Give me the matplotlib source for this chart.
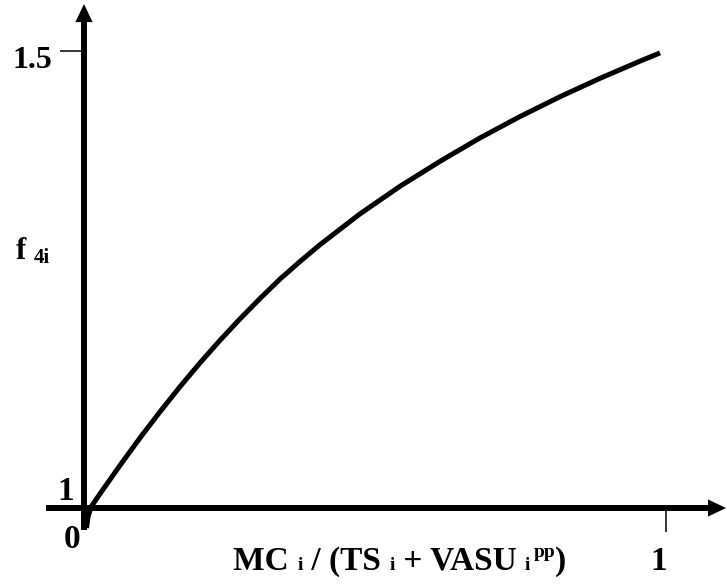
import matplotlib
matplotlib.use("Agg")
import matplotlib.pyplot as plt
from matplotlib.patches import FancyArrowPatch

plt.rcParams['font.family'] = ['Liberation Serif', 'DejaVu Serif']

# curve data: ratio MC_i/(TS_i+VASU_i^pp) vs f_4i
ratio = [0.0043, 0.0069, 0.0120, 0.0275, 0.0619, 0.0962, 0.1306, 0.1649,
         0.1993, 0.2337, 0.2680, 0.3024, 0.3368, 0.3711, 0.4055, 0.4742,
         0.5430, 0.6117, 0.6804, 0.7491, 0.8179, 0.8866, 0.9553, 0.9897]
f4i = [0.9781, 0.9902, 1.0011, 1.0156, 1.0467, 1.0767, 1.1053, 1.1327,
       1.1588, 1.1835, 1.2069, 1.2292, 1.2505, 1.2697, 1.2881, 1.3218,
       1.3520, 1.3793, 1.4049, 1.4283, 1.4500, 1.4701, 1.4889, 1.4979]

y_tick_vals = [1.5]
y_tick_labels = ['1.5']
x_tick_vals = [1]
x_tick_labels = ['1']

W, H = 727, 586
fig = plt.figure(figsize=(W / 100, H / 100), dpi=100)
ax = fig.add_axes([0, 0, 1, 1])
ax.set_xlim(-0.1443, 1.1048)
ax.set_ylim(0.9147, 1.5558)
ax.axis('off')

AX_LW = 4.3
# axis shafts
ax.plot([-0.0653, 1.085], [1.0, 1.0], color='black', lw=AX_LW, solid_capstyle='butt')
ax.plot([0.0, 0.0], [0.976, 1.535], color='black', lw=AX_LW, solid_capstyle='butt')
# arrow heads
for start, tip in [((1.05, 1.0), (1.1031, 1.0)), ((0.0, 1.50), (0.0, 1.5514))]:
    ax.add_patch(FancyArrowPatch(start, tip,
                                 arrowstyle='-|>,head_length=1.3,head_width=0.62',
                                 mutation_scale=10, lw=0, color='black',
                                 shrinkA=0, shrinkB=0))

# ticks
for yv in y_tick_vals:
    ax.plot([-0.041, 0.0], [yv, yv], color='black', lw=1.1, solid_capstyle='butt')
for xv in x_tick_vals:
    ax.plot([xv, xv], [1.0, 0.974], color='black', lw=1.1, solid_capstyle='butt')

# curve
ax.plot(ratio, f4i, color='black', lw=3.6, solid_joinstyle='round', solid_capstyle='butt')

renderer = fig.canvas.get_renderer()


def to_disp(px, py):
    return px, H - py


def chain(x_anchor, y_base, pieces, ha='left'):
    """pieces: (text, fontsize, raise_px). Positions in display pixels."""
    arts = []
    x = 0.0
    for s, fs, dy in pieces:
        t = fig.text(x, y_base + dy, s, fontsize=fs, fontweight='bold',
                     ha='left', va='baseline', transform=None)
        arts.append(t)
        x += t.get_window_extent(renderer).width
    total = x
    off = x_anchor - (total / 2 if ha == 'center' else (total if ha == 'right' else 0))
    for t in arts:
        px_, py_ = t.get_position()
        t.set_position((px_ + off, py_))
    return arts


S = 24
s = 14
# tick labels
for yv, lab in zip(y_tick_vals, y_tick_labels):
    dx, dy = ax.transData.transform((0.0, yv))
    chain(dx - 32, dy - 17, [(lab, 23, 0)], ha='right')
for xv, lab in zip(x_tick_vals, x_tick_labels):
    dx, dy = ax.transData.transform((xv, 1.0))
    chain(dx - 7, dy - 62, [(lab, S, 0)], ha='center')

ox, oy = ax.transData.transform((0.0, 1.0))
chain(ox - 18, oy + 8, [('1', S, 0)], ha='center')
chain(ox - 11.5, oy - 40, [('0', S, 0)], ha='center')

# y label
chain(*to_disp(16, 259), [('f', 22, 0), (' ', 22, 0), ('4i', 15, -4)])

# x label
chain(400, H - 570, [('MC ', S, 0), ('i', s, 0), (' / (TS ', S, 0), ('i', s, 0),
                     (' + VASU ', S, 0), ('i', s, 0), (' ', 10, 0), ('pp', s, 13),
                     (')', S, 0)], ha='center')

fig.savefig('out.png', dpi=100)
